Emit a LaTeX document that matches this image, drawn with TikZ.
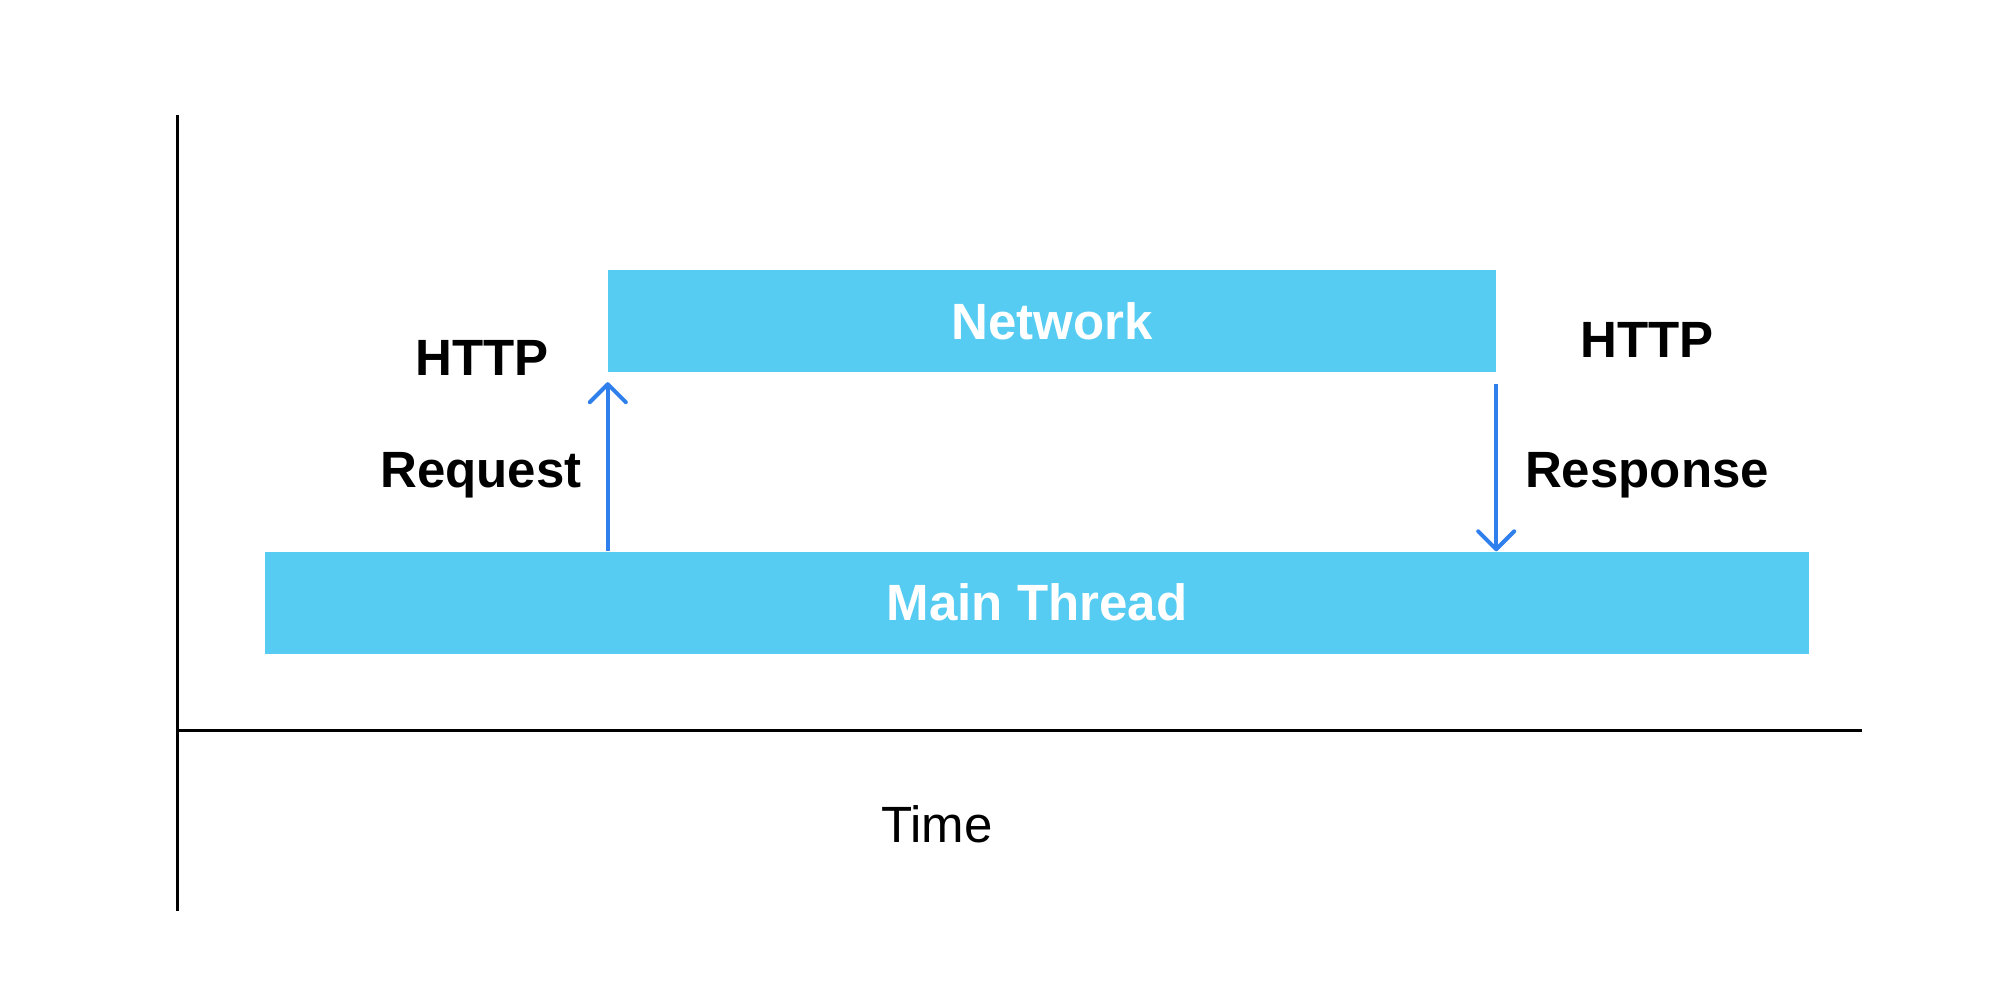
\documentclass[tikz,border=0pt]{standalone}
\usepackage{fontspec}
\setmainfont{Liberation Sans}
\usetikzlibrary{arrows.meta}
\definecolor{boxblue}{HTML}{56CCF2}
\definecolor{arrowblue}{HTML}{2F80ED}
\begin{document}
\begin{tikzpicture}[x=1pt,y=-1pt,
  bar/.style={fill=boxblue, draw=none, text=white, font=\fontsize{51}{60}\selectfont\bfseries, inner sep=0pt, minimum height=102pt},
  lbl/.style={font=\fontsize{51}{60}\selectfont\bfseries, inner sep=0pt, anchor=base},
  axislbl/.style={font=\fontsize{51}{60}\selectfont, inner sep=0pt, anchor=base},
  axis/.style={line width=3pt, black},
  flow/.style={line width=4pt, arrowblue, -{Straight Barb[length=18pt,width=36pt,line cap=round,line join=round]}}]
\useasboundingbox[fill=white] (0,0) rectangle (2000,1000);
% axes
\coordinate (ytop) at (177,115);
\coordinate (ybot) at (177,911);
\coordinate (origin) at (177,730);
\coordinate (xend) at (1862,730);
\draw[axis] (ytop) -- (ybot);
\draw[axis] (origin) -- (xend);
% bars
\node[bar, minimum width=888pt] (net) at (1052,321) {Network};
\node[bar, minimum width=1544pt] (main) at (1037,602.5) {Main Thread};
% labels
\node[lbl] (httpl) at (482,375) {HTTP};
\node[lbl] (req) at (481,487) {Request};
\node[lbl] (httpr) at (1647,357) {HTTP};
\node[lbl] (resp) at (1647,487) {Response};
\node[axislbl] (time) at (937,842) {Time};
% arrows
\draw[flow] (main.north -| net.south west) -- ([yshift=-10pt]net.south west);
\draw[flow] ([yshift=-12pt]net.south east) -- (main.north -| net.south east);
\end{tikzpicture}
\end{document}
